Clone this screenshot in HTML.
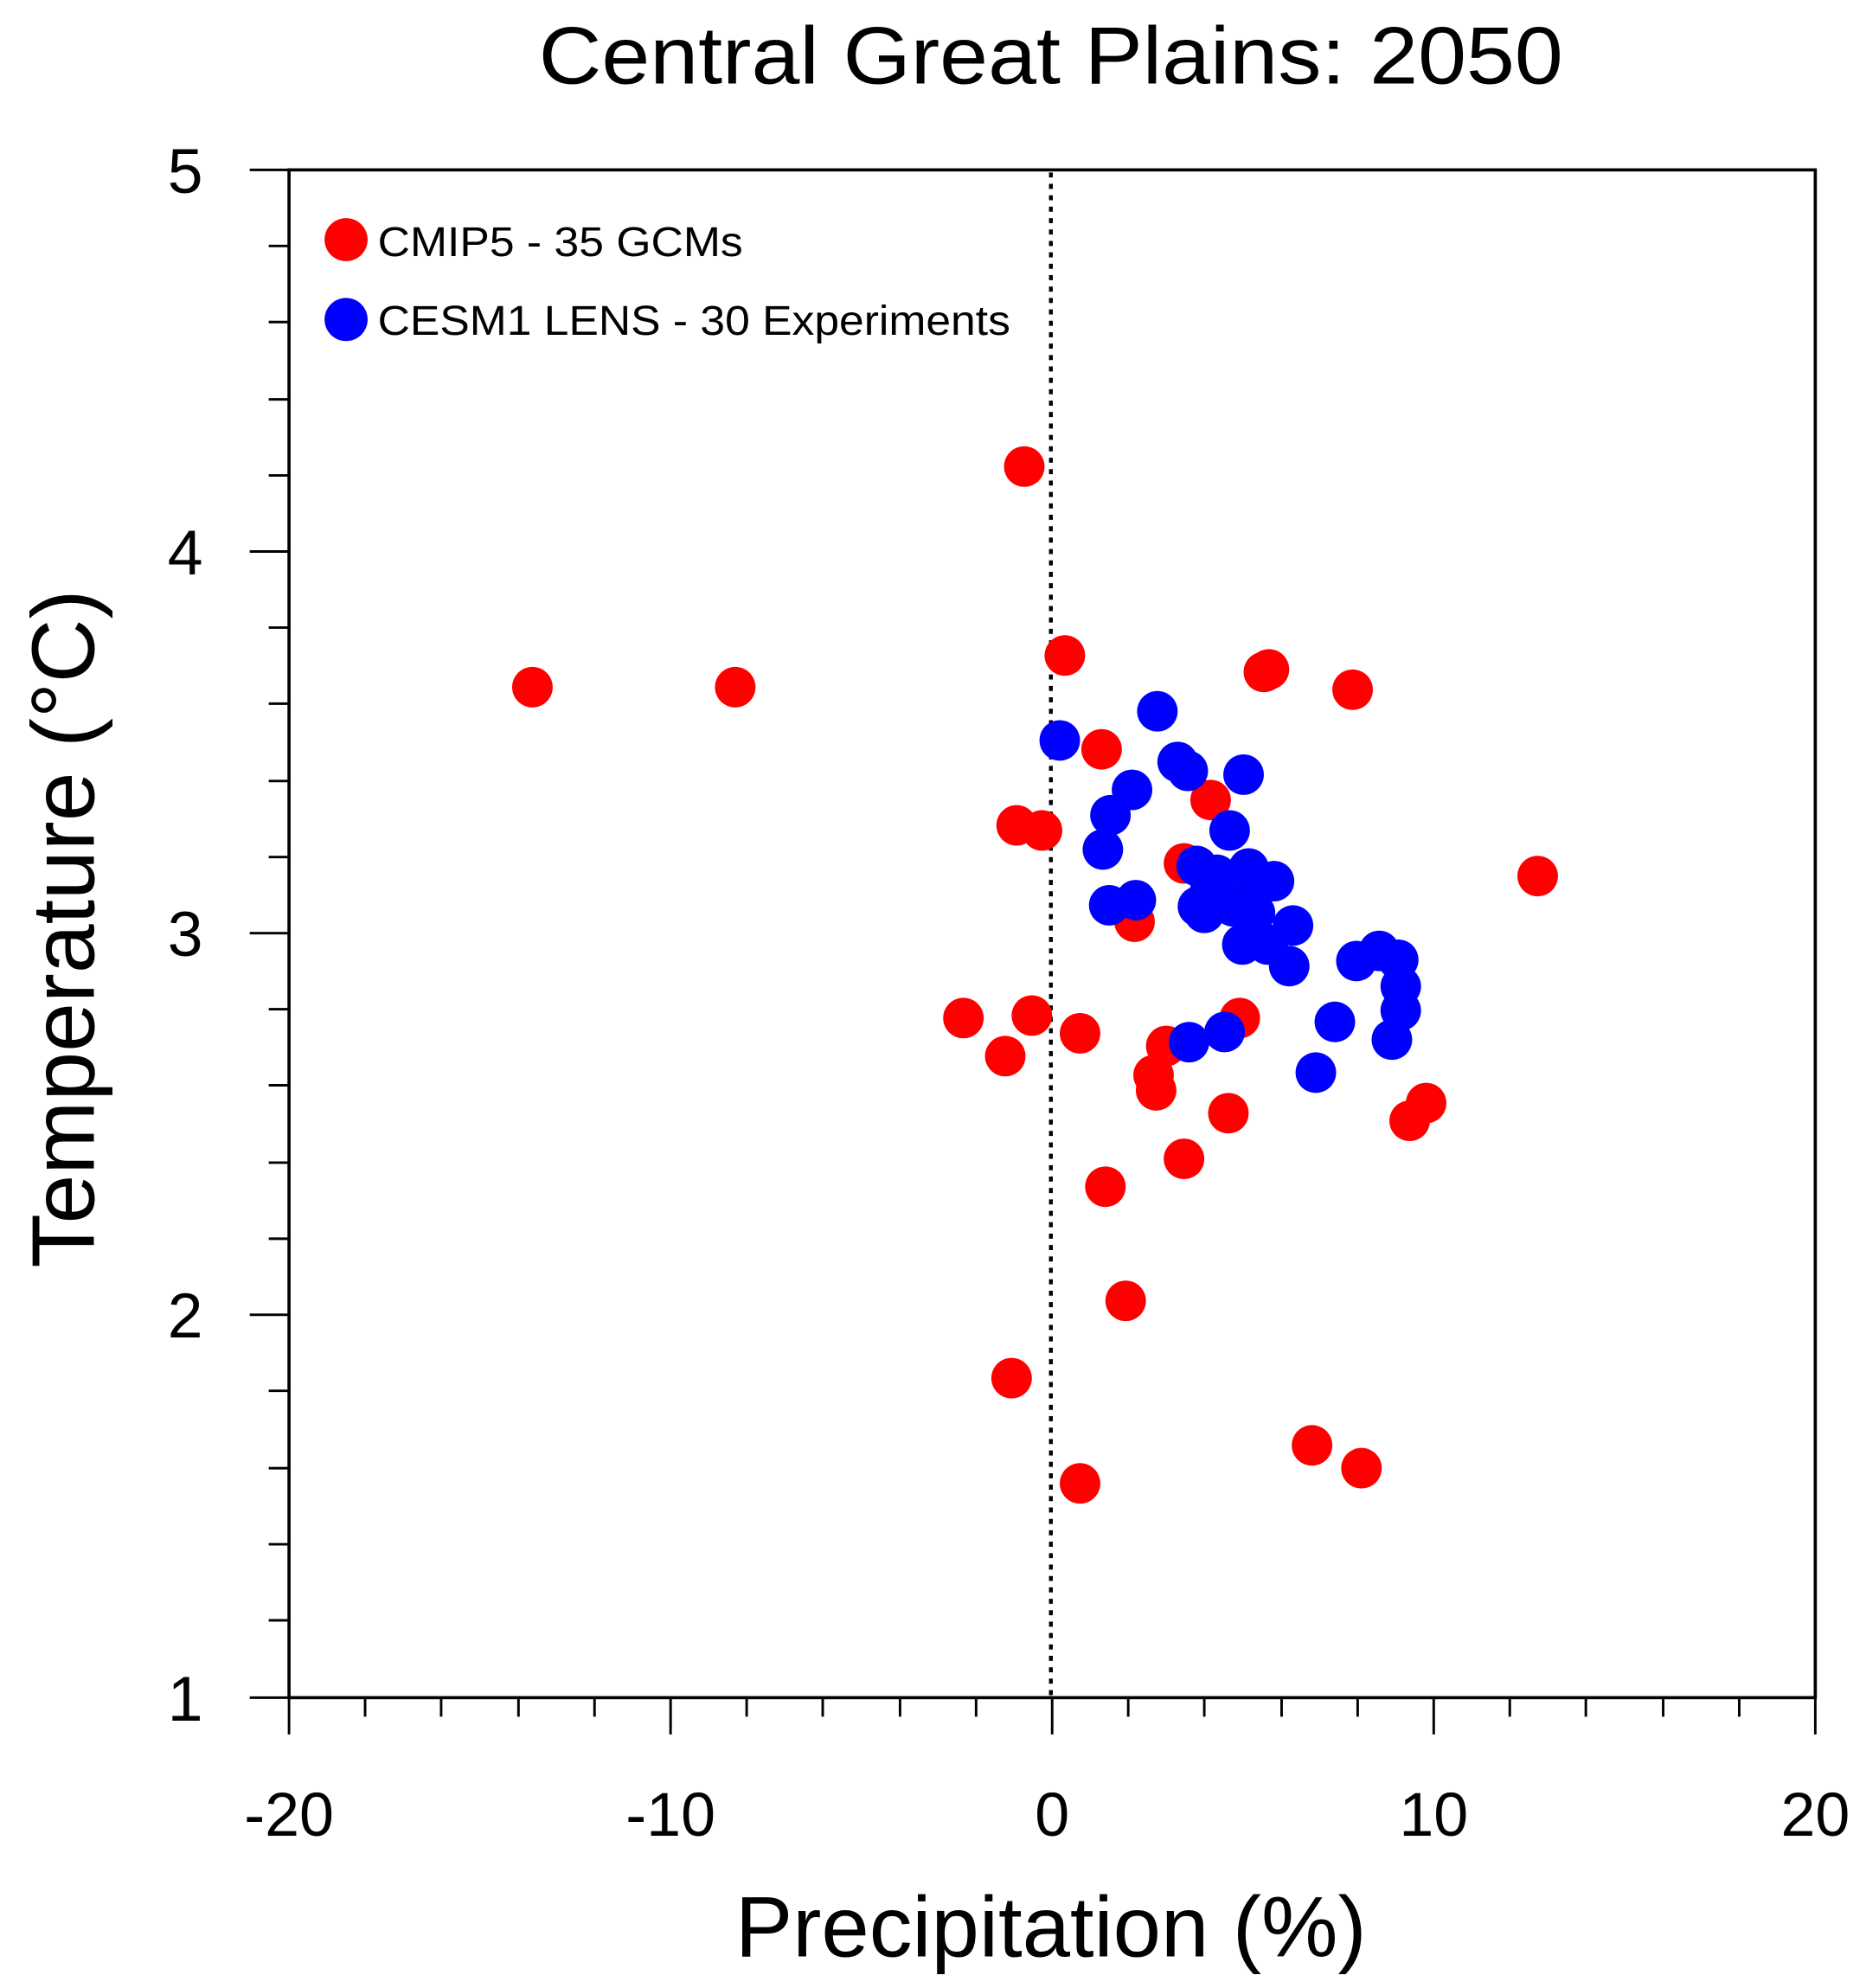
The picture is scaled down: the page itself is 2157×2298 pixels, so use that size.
<!DOCTYPE html>
<html><head><meta charset="utf-8"><style>
html,body{margin:0;padding:0;background:#fff;}
svg{display:block;}
text{font-family:"Liberation Sans",sans-serif;fill:#000;}
</style></head><body>
<svg width="2157" height="2298" viewBox="0 0 1472 1568" preserveAspectRatio="none" xmlns="http://www.w3.org/2000/svg">
<rect width="1472" height="1568" fill="#fff"/>
<text x="425" y="66" font-size="64" textLength="808" lengthAdjust="spacingAndGlyphs">Central Great Plains: 2050</text>
<rect x="228" y="134" width="1204" height="1205" fill="none" stroke="#000" stroke-width="2.5"/>
<g stroke="#000" stroke-width="2">
<line x1="197" y1="134" x2="228" y2="134"/><line x1="197" y1="435" x2="228" y2="435"/><line x1="197" y1="736" x2="228" y2="736"/><line x1="197" y1="1037" x2="228" y2="1037"/><line x1="197" y1="1339" x2="228" y2="1339"/>
<line x1="212" y1="194" x2="228" y2="194"/><line x1="212" y1="254" x2="228" y2="254"/><line x1="212" y1="315" x2="228" y2="315"/><line x1="212" y1="375" x2="228" y2="375"/>
<line x1="212" y1="495" x2="228" y2="495"/><line x1="212" y1="555" x2="228" y2="555"/><line x1="212" y1="616" x2="228" y2="616"/><line x1="212" y1="676" x2="228" y2="676"/>
<line x1="212" y1="796" x2="228" y2="796"/><line x1="212" y1="856" x2="228" y2="856"/><line x1="212" y1="917" x2="228" y2="917"/><line x1="212" y1="977" x2="228" y2="977"/>
<line x1="212" y1="1097" x2="228" y2="1097"/><line x1="212" y1="1158" x2="228" y2="1158"/><line x1="212" y1="1218" x2="228" y2="1218"/><line x1="212" y1="1278" x2="228" y2="1278"/>
<line x1="228" y1="1339" x2="228" y2="1368"/><line x1="529" y1="1339" x2="529" y2="1368"/><line x1="830" y1="1339" x2="830" y2="1368"/><line x1="1131" y1="1339" x2="1131" y2="1368"/><line x1="1432" y1="1339" x2="1432" y2="1368"/>
<line x1="288" y1="1339" x2="288" y2="1354"/><line x1="348" y1="1339" x2="348" y2="1354"/><line x1="409" y1="1339" x2="409" y2="1354"/><line x1="469" y1="1339" x2="469" y2="1354"/>
<line x1="589" y1="1339" x2="589" y2="1354"/><line x1="649" y1="1339" x2="649" y2="1354"/><line x1="710" y1="1339" x2="710" y2="1354"/><line x1="770" y1="1339" x2="770" y2="1354"/>
<line x1="890" y1="1339" x2="890" y2="1354"/><line x1="950" y1="1339" x2="950" y2="1354"/><line x1="1011" y1="1339" x2="1011" y2="1354"/><line x1="1071" y1="1339" x2="1071" y2="1354"/>
<line x1="1191" y1="1339" x2="1191" y2="1354"/><line x1="1251" y1="1339" x2="1251" y2="1354"/><line x1="1312" y1="1339" x2="1312" y2="1354"/><line x1="1372" y1="1339" x2="1372" y2="1354"/>
</g>
<line x1="829" y1="136" x2="829" y2="1337" stroke="#000" stroke-width="3" stroke-dasharray="4,5"/>
<g font-size="50" text-anchor="end">
<text x="160" y="152">5</text><text x="160" y="453">4</text><text x="160" y="754">3</text><text x="160" y="1055">2</text><text x="160" y="1357">1</text>
</g>
<g font-size="49" text-anchor="middle">
<text x="228" y="1448">-20</text><text x="529" y="1448">-10</text><text x="830" y="1448">0</text><text x="1131" y="1448">10</text><text x="1432" y="1448">20</text>
</g>
<text x="580" y="1543" font-size="68" textLength="498" lengthAdjust="spacingAndGlyphs">Precipitation (%)</text>
<text transform="translate(74,1000) rotate(-90)" font-size="70" textLength="535" lengthAdjust="spacingAndGlyphs">Temperature (°C)</text>
<g fill="#ff0000">
<circle cx="273" cy="189" r="17"/>
<circle cx="808" cy="368" r="16"/><circle cx="420" cy="542" r="16"/><circle cx="580" cy="542" r="16"/><circle cx="840" cy="517" r="16"/><circle cx="997" cy="530" r="16"/><circle cx="1001" cy="528" r="16"/><circle cx="1067" cy="544" r="16"/><circle cx="869" cy="591" r="16"/><circle cx="955" cy="631" r="16"/><circle cx="802" cy="651" r="16"/><circle cx="822" cy="655" r="16"/><circle cx="934" cy="681" r="16"/><circle cx="1213" cy="691" r="16"/><circle cx="895" cy="727" r="16"/><circle cx="760" cy="803" r="16"/><circle cx="814" cy="801" r="16"/><circle cx="852" cy="815" r="16"/><circle cx="793" cy="833" r="16"/><circle cx="920" cy="825" r="16"/><circle cx="978" cy="803" r="16"/><circle cx="910" cy="848" r="16"/><circle cx="912" cy="860" r="16"/><circle cx="969" cy="878" r="16"/><circle cx="1112" cy="884" r="16"/><circle cx="1125" cy="870" r="16"/><circle cx="934" cy="914" r="16"/><circle cx="872" cy="936" r="16"/><circle cx="888" cy="1026" r="16"/><circle cx="798" cy="1087" r="16"/><circle cx="1035" cy="1140" r="16"/><circle cx="1074" cy="1158" r="16"/><circle cx="852" cy="1170" r="16"/><circle cx="983" cy="710" r="16"/>
</g>
<g fill="#0000ff">
<circle cx="273" cy="252" r="17"/>
<circle cx="836" cy="584" r="16"/><circle cx="913" cy="561" r="16"/><circle cx="929" cy="601" r="16"/><circle cx="937" cy="608" r="16"/><circle cx="981" cy="611" r="16"/><circle cx="893" cy="623" r="16"/><circle cx="876" cy="643" r="16"/><circle cx="870" cy="670" r="16"/><circle cx="970" cy="655" r="16"/><circle cx="944" cy="683" r="16"/><circle cx="960" cy="690" r="16"/><circle cx="985" cy="685" r="16"/><circle cx="1005" cy="695" r="16"/><circle cx="875" cy="714" r="16"/><circle cx="896" cy="710" r="16"/><circle cx="950" cy="720" r="16"/><circle cx="955" cy="700" r="16"/><circle cx="973" cy="715" r="16"/><circle cx="990" cy="720" r="16"/><circle cx="1020" cy="730" r="16"/><circle cx="980" cy="745" r="16"/><circle cx="1000" cy="745" r="16"/><circle cx="1017" cy="762" r="16"/><circle cx="1070" cy="758" r="16"/><circle cx="1088" cy="750" r="16"/><circle cx="1103" cy="757" r="16"/><circle cx="1105" cy="778" r="16"/><circle cx="1105" cy="797" r="16"/><circle cx="1053" cy="806" r="16"/><circle cx="1098" cy="820" r="16"/><circle cx="966" cy="814" r="16"/><circle cx="938" cy="822" r="16"/><circle cx="1038" cy="846" r="16"/><circle cx="945" cy="715" r="16"/><circle cx="990" cy="700" r="16"/>
</g>
<text x="298" y="202" font-size="33" textLength="288" lengthAdjust="spacingAndGlyphs">CMIP5 - 35 GCMs</text>
<text x="298" y="264" font-size="33" textLength="499" lengthAdjust="spacingAndGlyphs">CESM1 LENS - 30 Experiments</text>
</svg>
</body></html>
